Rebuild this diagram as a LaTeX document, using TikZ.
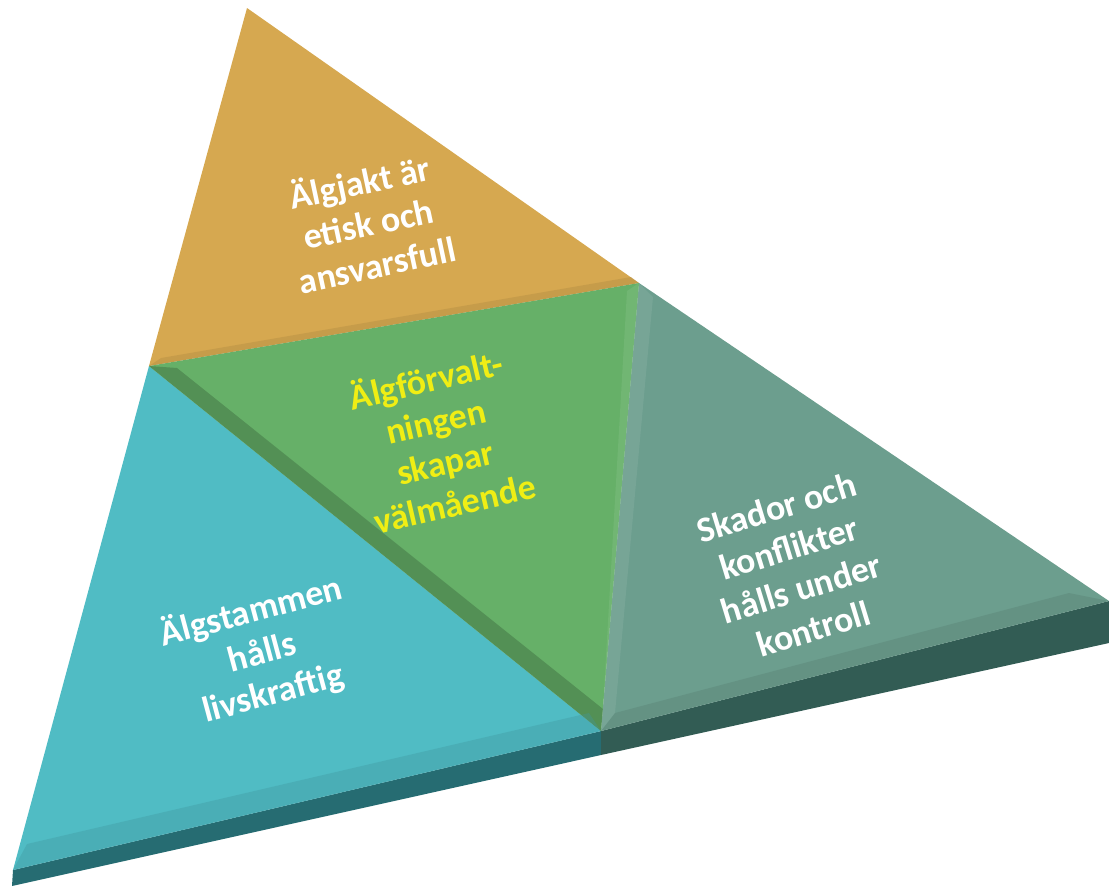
\documentclass[tikz,border=0pt]{standalone}
\usepackage{fontspec}
\setmainfont{Carlito}
\usetikzlibrary{calc}
\definecolor{faceTop}{RGB}{214,168,80}
\definecolor{faceMid}{RGB}{102,176,104}
\definecolor{faceLeft}{RGB}{80,188,196}
\definecolor{faceRight}{RGB}{108,158,142}
\definecolor{slabLeft}{RGB}{38,108,114}
\definecolor{slabRight}{RGB}{50,92,84}
\definecolor{midText}{RGB}{240,238,20}

\begin{document}
\begin{tikzpicture}[
    x=0.01cm, y=-0.01cm,
    face/.style={draw=none},
    lbl/.style={align=center, font=\fontsize{10.2}{12}\selectfont\bfseries, text=white, inner sep=0pt},
    midlbl/.style={lbl, text=midText}
]
\useasboundingbox (0,0) rectangle (1109,887);
% corners of the big triangle
\coordinate (apex) at (247,8);
\coordinate (lmid) at (149,366);
\coordinate (rmid) at (639,283);
\coordinate (bmid) at (601,731);
\coordinate (bl) at (13,870);
\coordinate (br) at (1109,601);
% slab underneath
\coordinate (blLow) at (12,886);
\coordinate (bmidLow) at (601,755);
\coordinate (brLow) at (1109,643);

\fill[slabLeft] (bl) -- (bmid) -- (bmidLow) -- (blLow) -- cycle;
\fill[slabRight] (bmid) -- (br) -- (brLow) -- (bmidLow) -- cycle;

% the four faces
\fill[faceTop, face] (apex) -- (rmid) -- (lmid) -- cycle;
\fill[faceLeft, face] (lmid) -- (bmid) -- (bl) -- cycle;
\fill[faceRight, face] (rmid) -- (br) -- (bmid) -- cycle;
\fill[faceMid, face] (lmid) -- (rmid) -- (bmid) -- cycle;

% bevels
\fill[faceTop!80!black, opacity=.35] (lmid) -- (rmid) -- ($(rmid)+(-8,-6)$) -- ($(lmid)+(12,-8)$) -- cycle;
\fill[faceMid!70!black, opacity=.6] (lmid) -- (bmid) -- ($(bmid)+(2,-22)$) -- ($(lmid)+(28,2)$) -- cycle;
\fill[faceMid!85!white, opacity=.5] (rmid) -- (bmid) -- ($(bmid)+(2,-22)$) -- ($(rmid)+(-12,8)$) -- cycle;
\fill[faceRight!85!white, opacity=.5] (rmid) -- (bmid) -- ($(bmid)+(14,-18)$) -- ($(rmid)+(14,14)$) -- cycle;
\fill[faceLeft!80!black, opacity=.35] (bl) -- (bmid) -- ($(bmid)+(-12,-18)$) -- ($(bl)+(14,-26)$) -- cycle;
\fill[faceRight!80!black, opacity=.35] (bmid) -- (br) -- ($(br)+(-40,-8)$) -- ($(bmid)+(14,-18)$) -- cycle;

% texts
\node[lbl, rotate=12] (jakt) at (368,222) {Älgjakt är\\etisk och\\ansvarsfull};
\node[midlbl, rotate=13] (forv) at (440,440) {Älgförvalt-\\ningen\\skapar\\välmående};
\node[lbl, rotate=15] (stam) at (262,652) {Älgstammen\\hålls\\livskraftig};
\node[lbl, rotate=17] (skador) at (795,568) {Skador och\\konflikter\\hålls under\\kontroll};
\end{tikzpicture}
\end{document}
